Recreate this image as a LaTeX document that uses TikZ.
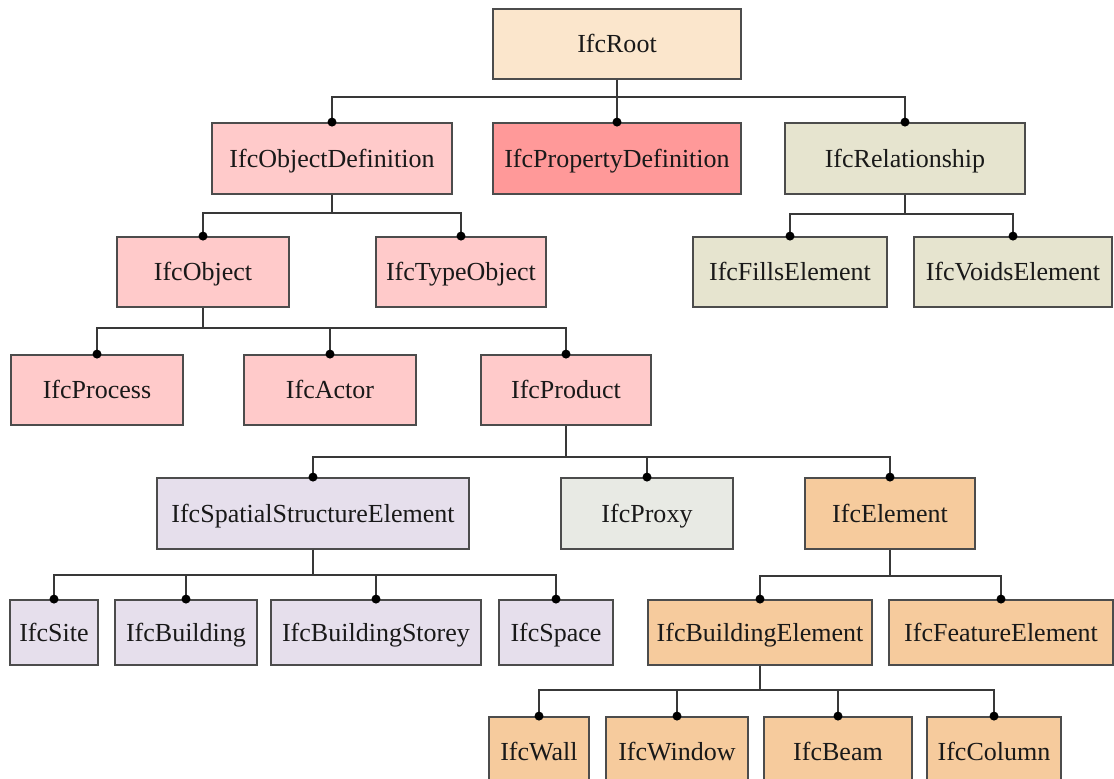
\documentclass[tikz,border=0pt]{standalone}
\usepackage{fontspec}
\setmainfont{Liberation Serif}
\definecolor{rootFill}{RGB}{251,230,204}
\definecolor{defFill}{RGB}{255,202,202}
\definecolor{propFill}{RGB}{255,153,153}
\definecolor{relFill}{RGB}{230,228,207}
\definecolor{proxyFill}{RGB}{232,234,228}
\definecolor{spatialFill}{RGB}{230,223,236}
\definecolor{elemFill}{RGB}{246,203,157}
\begin{document}
\begin{tikzpicture}
[x=0.025cm,y=-0.025cm,%
  lineDecorate/.style={-,line width=1.25pt,draw=black!78},%
  boxDecorate/.style={shape=rectangle,draw=black!70,line width=1.3pt,inner sep=0pt,
    text=black!90,text height=12.2pt,text depth=0pt,font=\fontsize{18.5}{22}\selectfont}]
\clip (0,0) rectangle (1114,778);
%% boxes
\foreach \nodename/\x/\y/\w/\h/\colour/\txt in {
  root/617/44/248/70/rootFill/IfcRoot,
  objdef/332/158.5/240/71/defFill/IfcObjectDefinition,
  propdef/617/158.5/248/71/propFill/IfcPropertyDefinition,
  rel/905/158.5/240/71/relFill/IfcRelationship,
  object/203/272/172/70/defFill/IfcObject,
  typeobj/461/272/170/70/defFill/IfcTypeObject,
  fills/790/272/194/70/relFill/IfcFillsElement,
  voids/1013/272/198/70/relFill/IfcVoidsElement,
  process/97/390/172/70/defFill/IfcProcess,
  actor/330/390/172/70/defFill/IfcActor,
  product/566/390/170/70/defFill/IfcProduct,
  spatial/313/513.5/312/71/spatialFill/IfcSpatialStructureElement,
  proxy/647/513.5/172/71/proxyFill/IfcProxy,
  element/890/513.5/170/71/elemFill/IfcElement,
  site/54/632.5/88/65/spatialFill/IfcSite,
  building/186/632.5/142/65/spatialFill/IfcBuilding,
  storey/376/632.5/210/65/spatialFill/IfcBuildingStorey,
  space/556/632.5/114/65/spatialFill/IfcSpace,
  bldgelem/760/632.5/224/65/elemFill/IfcBuildingElement,
  feature/1001/632.5/224/65/elemFill/IfcFeatureElement,
  wall/539/752/100/70/elemFill/IfcWall,
  window/677/752/142/70/elemFill/IfcWindow,
  beam/838/752/148/70/elemFill/IfcBeam,
  column/994/752/134/70/elemFill/IfcColumn}
{
  \node (\nodename) at (\x,\y) [boxDecorate,fill=\colour,
    minimum width=\w*0.025cm,minimum height=\h*0.025cm] {\txt};
}
%% tree lines
\foreach \startnode/\endnode/\drop in {
  root/objdef/17, root/propdef/17, root/rel/17,
  objdef/object/18, objdef/typeobj/18, rel/fills/19, rel/voids/19,
  object/process/20, object/actor/20, object/product/20,
  product/spatial/31, product/proxy/31, product/element/31,
  spatial/site/25, spatial/building/25, spatial/storey/25, spatial/space/25,
  element/bldgelem/26, element/feature/26,
  bldgelem/wall/24, bldgelem/window/24, bldgelem/beam/24, bldgelem/column/24}
{
  \draw[lineDecorate] (\startnode.south) -- ++(0,\drop) -| (\endnode.north);
  \fill (\endnode.north) circle (3.2pt);
};
\end{tikzpicture}
\end{document}
